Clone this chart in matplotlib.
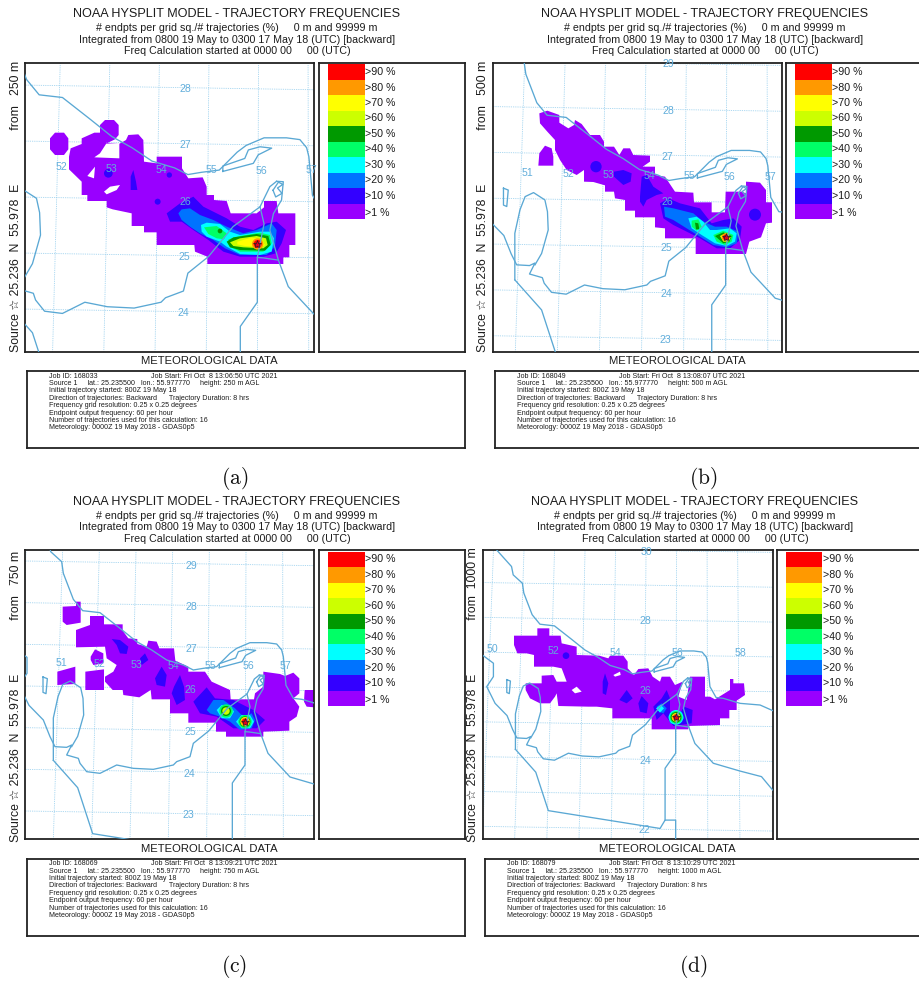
import matplotlib
matplotlib.use("Agg")
import matplotlib.pyplot as plt
from matplotlib.patches import Circle, Polygon, Rectangle

W, H = 919, 981
FONT = ['Liberation Sans', 'DejaVu Sans']
plt.rcParams['font.family'] = FONT
plt.rcParams['mathtext.fontset'] = 'cm'
TXT = '#1c1c1c'
BLUE = '#5aa8d4'

levels = [1, 10, 20, 30, 40, 50, 60, 70, 80, 90]
level_colors = ['#9900ff', '#3300ff', '#0073ff', '#00ffff', '#00ff66',
                '#009900', '#ccff00', '#ffff00', '#ff9900', '#ff0000']
legend_labels = ['>90 %', '>80 %', '>70 %', '>60 %', '>50 %', '>40 %', '>30 %', '>20 %', '>10 %', '>1 %']

titles = ['# endpts per grid sq./# trajectories (%)     0 m and 99999 m',
          'Integrated from 0800 19 May to 0300 17 May 18 (UTC) [backward]',
          'Freq Calculation started at 0000 00     00 (UTC)']

# shared map, in map units
north_coast = [(93, 96), (146, 155), (152, 185), (185, 215), (190, 250), (220, 328), (248, 362), (300, 368),
               (360, 415), (410, 455), (455, 480), (500, 510), (550, 525), (580, 540), (610, 535), (650, 530),
               (690, 490), (710, 475), (750, 458), (800, 458), (830, 462), (845, 480), (850, 500), (858, 586),
               (880, 625), (906, 628), (966, 646), (1038, 652), (1083, 672)]
qeshm = [(658, 533), (726, 515), (737, 496), (767, 481), (741, 478), (715, 485), (707, 504), (658, 521), (658, 533)]
gulf_coast = [(42, 473), (81, 502), (81, 550), (57, 586), (87, 646), (130, 690), (150, 740), (165, 770),
              (200, 772), (215, 765), (200, 795), (235, 805), (240, 820), (260, 845), (300, 850), (350, 825),
              (400, 835), (460, 838), (520, 825), (530, 815), (570, 800), (580, 760), (626, 723), (681, 656),
              (741, 612), (763, 567), (778, 555)]
oman_coast = [(778, 555), (793, 556), (789, 597), (771, 627), (763, 664), (782, 731), (804, 790), (860, 850),
              (870, 861), (966, 889), (1043, 909), (1083, 957)]
musandam = [(770, 575), (782, 557), (792, 562), (780, 570), (790, 582), (776, 590), (770, 575)]
qatar = [(160, 811), (160, 684), (174, 620), (188, 584), (211, 573), (242, 593), (249, 625), (251, 675),
         (233, 739), (215, 770)]
bahrain = [(129, 561), (142, 566), (138, 611), (129, 607), (129, 561)]
saudi_border = [(160, 811), (233, 893), (278, 1031), (679, 1095), (697, 1065), (735, 1065), (735, 1134)]
oman_border = [(697, 1065), (697, 879), (735, 825), (735, 725), (748, 726), (782, 731)]
uae_border = [(741, 612), (750, 650), (735, 725)]
map_lines = [north_coast, qeshm, gulf_coast, oman_coast, musandam, qatar, bahrain, saudi_border, oman_border, uae_border]

meridian_top = [78, 188, 298, 408, 518, 628, 738, 848, 958]
meridian_bottom = [45, 160, 275, 390, 505, 620, 735, 850, 965]
parallel_left = [1088, 963, 838, 713, 588, 463, 338, 213, 88]

# panel a
fills_a = {
    1: [[(165, 398), (192, 398), (205, 415), (205, 448), (192, 465), (165, 465), (150, 448), (150, 415)],
        [(315, 360), (342, 360), (356, 375), (356, 405), (345, 418), (320, 430), (300, 400), (300, 375)],
        [(207, 470), (212, 445), (245, 432), (245, 415), (283, 398), (318, 398), (318, 430), (357, 432), (378, 420),
         (385, 405), (415, 403), (430, 420), (432, 485), (470, 490), (470, 470), (546, 470), (546, 505), (565, 535),
         (608, 532), (620, 560), (620, 585), (642, 585), (642, 600), (680, 603), (692, 640), (770, 640), (792, 622),
         (792, 603), (830, 603), (835, 640), (886, 640), (886, 735), (868, 735), (868, 772), (850, 772), (850, 792),
         (622, 792), (622, 770), (585, 755), (583, 735), (470, 735), (470, 697), (432, 697), (432, 678), (395, 678),
         (395, 640), (338, 628), (320, 622), (320, 603), (262, 603), (262, 585), (245, 585), (245, 545), (207, 508)]],
    0: [[(283, 472), (300, 460), (318, 432), (358, 432), (358, 475)], [(262, 528), (285, 500), (282, 535)],
        [(312, 575), (330, 560), (360, 555), (350, 570), (320, 583)]],
    10: [[(400, 510), (408, 545), (412, 570), (392, 570), (392, 530)],
         [(500, 640), (540, 610), (580, 590), (610, 620), (640, 635), (680, 655), (720, 680), (760, 690), (800, 670),
          (830, 665), (858, 690), (845, 730), (828, 760), (790, 770), (720, 770), (670, 755), (625, 720), (580, 690),
          (545, 665), (510, 665)]],
    20: [[(535, 640), (545, 628), (570, 625), (600, 645), (640, 660), (680, 680), (730, 700), (770, 690), (815, 670),
          (830, 690), (825, 740), (800, 765), (720, 765), (675, 745), (640, 720), (600, 700), (570, 680), (545, 660)]],
    30: [[(603, 675), (620, 668), (660, 672), (690, 695), (720, 705), (780, 695), (810, 695), (822, 715), (815, 755),
          (780, 765), (720, 762), (680, 740), (660, 725), (620, 710), (605, 695)]],
    40: [[(612, 682), (650, 678), (680, 700), (672, 718), (650, 715), (625, 702)],
         [(685, 718), (720, 708), (780, 698), (810, 705), (815, 730), (790, 755), (720, 755), (690, 740)]],
    50: [[(680, 725), (700, 712), (770, 702), (805, 708), (812, 735), (795, 752), (720, 750), (690, 742)]],
    60: [[(690, 727), (720, 715), (770, 708), (798, 715), (803, 735), (790, 745), (730, 742), (700, 738)]],
    70: [[(712, 725), (755, 713), (785, 718), (795, 735), (785, 742), (735, 738), (712, 733)]],
}
spots_a = [(325, 520, 13, 10), (508, 525, 8, 10), (473, 605, 9, 10), (660, 693, 7, 50), (773, 732, 17, 80), (773, 732, 12, 90)]
labels_a = [('52', 183, 500), ('53', 335, 507), ('54', 485, 510), ('55', 635, 510), ('56', 785, 512), ('57', 935, 510),
            ('28', 556, 268), ('27', 555, 435), ('26', 555, 605), ('25', 553, 772), ('24', 550, 940)]

# panel b
fills_b = {
    1: [[(238, 340), (262, 332), (298, 345), (298, 368), (325, 385), (342, 375), (345, 360), (365, 372), (390, 405),
         (420, 405), (432, 425), (432, 440), (462, 440), (478, 465), (490, 445), (510, 445), (520, 465), (570, 467),
         (570, 485), (548, 500), (585, 500), (585, 525), (615, 530), (645, 575), (700, 578), (702, 607), (755, 607),
         (755, 637), (795, 637), (797, 575), (845, 575), (858, 580), (858, 545), (900, 548), (918, 570), (918, 607),
         (936, 607), (936, 668), (918, 670), (903, 712), (868, 725), (858, 762), (707, 762), (707, 715), (615, 715),
         (615, 685), (585, 682), (585, 652), (525, 652), (525, 632), (495, 632), (495, 600), (465, 595), (462, 575),
         (435, 575), (435, 556), (400, 546), (372, 545), (372, 510), (350, 525), (320, 510), (300, 480), (285, 450),
         (285, 420), (262, 395), (240, 370)],
        [(235, 497), (238, 460), (255, 437), (275, 445), (280, 470), (280, 497)]],
    10: [[(462, 515), (490, 510), (515, 520), (512, 545), (490, 555), (462, 530)],
         [(540, 590), (545, 530), (560, 525), (580, 560), (610, 580), (590, 585), (560, 600), (550, 620), (540, 605)],
         [(600, 610), (625, 595), (660, 610), (720, 625), (755, 670), (790, 660), (820, 655), (845, 680), (840, 720),
          (810, 745), (770, 745), (720, 715), (680, 695), (640, 675), (610, 655)]],
    20: [[(612, 620), (640, 625), (700, 640), (730, 665), (765, 680), (800, 680), (835, 695), (830, 730), (800, 742),
          (760, 735), (720, 710), (680, 685), (640, 660), (615, 650)]],
    30: [[(685, 655), (710, 650), (730, 665), (750, 690), (770, 690), (810, 685), (830, 700), (825, 725), (800, 738),
          (765, 730), (725, 705), (695, 685)]],
    40: [[(695, 662), (715, 658), (725, 680), (710, 692), (695, 680)],
         [(760, 705), (790, 692), (820, 705), (815, 725), (795, 735), (770, 725)]],
    50: [[(705, 668), (715, 670), (718, 688), (708, 688)], [(765, 708), (790, 697), (815, 708), (808, 725), (790, 730)]],
    70: [[(780, 708), (800, 698), (812, 712), (805, 725), (790, 725)]],
}
spots_b = [(408, 500, 17, 10), (885, 644, 18, 10), (797, 712, 12, 80), (797, 712, 8, 90)]
labels_b = [('51', 203, 520), ('52', 325, 522), ('53', 445, 525), ('54', 568, 527), ('55', 688, 529), ('56', 808, 530),
            ('57', 930, 530), ('29', 625, 193), ('28', 625, 332), ('27', 623, 470), ('26', 622, 606), ('25', 620, 745),
            ('24', 619, 882), ('23', 617, 1020)]

# panel c
fills_c = {
    1: [[(188, 350), (228, 348), (228, 335), (242, 335), (242, 398), (200, 405), (188, 395)],
        [(228, 420), (270, 405), (270, 378), (312, 378), (312, 403), (368, 403), (368, 422), (385, 445), (412, 447),
         (412, 462), (440, 470), (445, 452), (470, 455), (478, 475), (522, 475), (526, 512), (565, 530), (565, 545),
         (615, 545), (635, 575), (690, 600), (692, 628), (762, 628), (765, 610), (790, 590), (790, 545), (840, 552),
         (855, 558), (880, 548), (898, 565), (898, 610), (880, 625), (898, 650), (890, 680), (868, 695), (868, 722),
         (790, 725), (790, 740), (678, 740), (678, 725), (648, 725), (648, 698), (565, 698), (565, 670), (510, 670),
         (510, 628), (455, 628), (452, 600), (418, 622), (370, 615), (368, 600), (338, 600), (315, 575), (315, 560),
         (340, 545), (350, 525), (320, 505), (315, 470), (228, 472)],
        [(172, 545), (226, 530), (226, 582), (172, 585)],
        [(272, 500), (285, 478), (310, 490), (310, 520), (280, 525), (272, 510)],
        [(256, 545), (312, 538), (312, 600), (256, 600)],
        [(914, 600), (943, 600), (943, 652), (920, 650), (912, 635)]],
    10: [[(335, 447), (360, 450), (385, 470), (380, 492), (360, 490), (350, 465)],
         [(420, 505), (435, 490), (445, 510), (425, 525)],
         [(465, 565), (485, 530), (500, 555), (495, 590), (470, 585)],
         [(522, 590), (540, 555), (552, 590), (555, 630), (530, 645), (515, 610)],
         [(580, 635), (620, 592), (645, 625), (700, 630), (760, 660), (795, 690), (770, 715), (700, 715), (650, 680), (600, 670)]],
    20: [[(620, 660), (640, 630), (670, 630), (705, 655), (730, 680), (755, 670), (765, 690), (755, 715), (720, 720),
          (690, 695), (660, 680), (630, 670)]],
    30: [[(650, 660), (665, 645), (690, 645), (702, 665), (690, 685), (665, 685)],
         [(708, 695), (725, 675), (750, 675), (762, 695), (750, 715), (725, 715)]],
}
spots_c = [(678, 663, 20, 40), (735, 695, 20, 40), (678, 663, 15, 50), (735, 695, 16, 50), (678, 663, 11, 60),
           (735, 695, 14, 70), (735, 695, 12, 80), (735, 695, 9, 90)]
labels_c = [('51', 185, 520), ('52', 297, 522), ('53', 410, 526), ('54', 520, 528), ('55', 632, 529), ('56', 745, 529),
            ('57', 856, 528), ('29', 575, 227), ('28', 575, 352), ('27', 573, 476), ('26', 571, 600), ('25', 570, 726),
            ('24', 568, 851), ('23', 566, 976)]

# panel d
fills_d = {
    1: [[(162, 437), (232, 437), (232, 415), (268, 415), (268, 437), (302, 437), (305, 460), (350, 470), (350, 495),
         (418, 497), (445, 505), (450, 497), (490, 497), (503, 515), (503, 535), (522, 555), (535, 537), (565, 535),
         (578, 560), (600, 575), (605, 560), (630, 560), (645, 585), (668, 575), (655, 620), (680, 630), (690, 560),
         (735, 560), (735, 620), (750, 620), (765, 628), (810, 600), (810, 567), (820, 567), (820, 580), (852, 580),
         (855, 615), (830, 632), (830, 660), (808, 660), (808, 685), (780, 685), (780, 705), (685, 708), (685, 718),
         (575, 718), (575, 685), (457, 685), (457, 655), (410, 650), (385, 650), (295, 648), (290, 610), (285, 620),
         (270, 640), (240, 640), (210, 625), (197, 600), (197, 580), (245, 580), (245, 557), (280, 555), (290, 575),
         (320, 575), (305, 535), (280, 530), (222, 530), (222, 495), (200, 490), (172, 490), (162, 465)]],
    0: [[(335, 600), (350, 590), (365, 605), (345, 610)], [(460, 555), (480, 545), (482, 555), (465, 560)]],
    10: [[(428, 575), (435, 550), (445, 580), (438, 615), (428, 610)],
         [(478, 630), (500, 600), (518, 625), (500, 640)],
         [(535, 640), (545, 618), (565, 640), (560, 670), (540, 665)],
         [(580, 650), (605, 625), (620, 600), (630, 625), (630, 665), (660, 670), (672, 650), (698, 660), (695, 700),
          (640, 708), (610, 670), (590, 690)]],
    20: [[(590, 650), (605, 640), (620, 655), (610, 670), (598, 665)],
         [(625, 680), (645, 660), (665, 665), (672, 685), (650, 705), (630, 700)]],
    30: [[(588, 655), (602, 645), (612, 655), (600, 668)]],
}
spots_d = [(318, 497, 10, 10), (648, 682, 22, 30), (648, 682, 19, 40), (648, 682, 16, 50), (648, 682, 13, 70),
           (648, 682, 11, 80), (648, 682, 8, 90)]
labels_d = [('50', 97, 477), ('52', 281, 484), ('54', 467, 488), ('56', 653, 489), ('58', 841, 488), ('30', 559, 185),
            ('28', 557, 394), ('26', 556, 603), ('24', 555, 812), ('22', 553, 1020)]

heights = ['250', '500', '750', '1000']
job_ids = ['168033', '168049', '168069', '168079']
job_times = ['13:06:50', '13:08:07', '13:09:21', '13:10:29']

fig = plt.figure(figsize=(W / 100, H / 100), dpi=100)


def make_ax(x0, y0, x1, y1, lw=1.3):
    ax = fig.add_axes([x0 / W, 1 - y1 / H, (x1 - x0) / W, (y1 - y0) / H])
    ax.set_xticks([])
    ax.set_yticks([])
    for s in ax.spines.values():
        s.set_linewidth(lw)
        s.set_color('#222222')
    return ax


def put(x, y, s, size, **kw):
    fig.text(x / W, 1 - y / H, s, fontsize=size, color=TXT, va='center', **kw)


def draw_panel(ox, oy, ty, frame, src, scale, fills, spots, labels, height, job, stamp, tx, lx, info_x, box_x, box_right, mx, cap, cap_x, cap_y, legx):
    # frame and marks are in crop units, 3 per pixel
    ax = make_ax(ox + frame[0] / 3, oy + frame[1] / 3, ox + frame[2] / 3, oy + frame[3] / 3)
    ax.set_xlim(frame[0], frame[2])
    ax.set_ylim(frame[3], frame[1])

    def tr(x, y):
        return src[0] + (x - 735) * scale, src[1] + (y - 695) * scale

    for t, b in zip(meridian_top, meridian_bottom):
        p = tr(t - (b - t) * 0.5, 180 - 868 * 0.5)
        q = tr(b + (b - t) * 0.5, 1048 + 868 * 0.5)
        ax.plot([p[0], q[0]], [p[1], q[1]], ls=(0, (1, 1.2)), lw=0.6, color='#8fcbec', zorder=1)
    for y in parallel_left:
        p = tr(-200, y - 14 * 275 / 868)
        q = tr(1300, y + 14 * 1225 / 868)
        ax.plot([p[0], q[0]], [p[1], q[1]], ls=(0, (1, 1.2)), lw=0.6, color='#8fcbec', zorder=1)

    for lev in levels:
        for poly in fills.get(lev, []):
            ax.add_patch(Polygon(poly, closed=True, fc=level_colors[levels.index(lev)], ec='none', zorder=2))
        if lev == 1:
            for poly in fills.get(0, []):
                ax.add_patch(Polygon(poly, closed=True, fc='white', ec='none', zorder=2))
    for x, y, r, lev in spots:
        ax.add_patch(Circle((x, y), r, fc=level_colors[levels.index(lev)], ec='none', zorder=2))

    for line in map_lines:
        xs, ys = zip(*[tr(*p) for p in line])
        ax.plot(xs, ys, color=BLUE, lw=0.95, zorder=3)

    ax.plot([src[0]], [src[1]], marker='*', ms=6, mfc='#e00020', mec='#222222', mew=0.5, zorder=5)
    for s, x, y in labels:
        ax.text(x, y, s, fontsize=7.6, color='#62aedb', ha='center', va='center', zorder=4, clip_on=False)

    # legend frame
    leg = make_ax(ox + (frame[2] + 13) / 3, oy + frame[1] / 3, min(ox + 464.5, W + 3), oy + frame[3] / 3)
    leg.set_xlim(ox + (frame[2] + 13) / 3, min(ox + 464.5, W + 3))
    leg.set_ylim(oy + frame[3] / 3, oy + frame[1] / 3)
    top = oy + (frame[1] + 5) / 3
    step = 46.4 / 3
    for i, name in enumerate(legend_labels):
        leg.add_patch(Rectangle((ox + legx / 3, top + i * step), 109 / 3, step, fc=level_colors[9 - i], ec='none'))
        leg.text(ox + legx / 3 + 37, top + (i + 0.5) * step + (1.5 if i == 9 else 0), name, fontsize=7.7,
                 color=TXT, ha='left', va='center')

    # titles
    put(tx, ty + 14, 'NOAA HYSPLIT MODEL - TRAJECTORY FREQUENCIES', 9.05, ha='center')
    for i, s in enumerate(titles):
        put(tx, ty + 28.3 + i * 11.35, s, 7.7, ha='center')

    gap = '  ' if len(height) == 4 else '   '
    side = f'Source \u2606 25.236  N  55.978  E                from{gap}{height} m'
    fig.text(lx / W, 1 - (oy + 352.5) / H, side, fontsize=8.8, color=TXT, rotation=90, ha='center', va='bottom')

    put(mx, ty + 361, 'METEOROLOGICAL DATA', 8.1, ha='center')

    # info box
    make_ax(box_x, ty + 371, min(box_right, W + 3), ty + 448)
    info = [f'Job ID: {job}',
            f'Source 1     lat.: 25.235500   lon.: 55.977770     height: {height} m AGL',
            'Initial trajectory started: 800Z 19 May 18',
            'Direction of trajectories: Backward      Trajectory Duration: 8 hrs',
            'Frequency grid resolution: 0.25 x 0.25 degrees',
            'Endpoint output frequency: 60 per hour',
            'Number of trajectories used for this calculation: 16',
            'Meteorology: 0000Z 19 May 2018 - GDAS0p5']
    for i, s in enumerate(info):
        put(info_x, ty + 376 + i * 7.42, s, 5.15, ha='left')
    put(info_x + 102, ty + 376, f'Job Start: Fri Oct  8 {stamp} UTC 2021', 5.15, ha='left')

    fig.text(cap_x / W, 1 - cap_y / H, f'$\\mathrm{{{cap}}}$', fontsize=15.5, color='#111111', ha='center', va='center')


draw_panel(0, 0, 0, (75, 188, 943, 1055), (772, 732), 1.344, fills_a, spots_a, labels_a, heights[0], job_ids[0], job_times[0],
           237, 15.5, 49, 27, 464.5, 209, '(a)', 235, 478, 985)
draw_panel(460, 0, 0, (98, 188, 966, 1055), (797, 712), 1.10, fills_b, spots_b, labels_b, heights[1], job_ids[1], job_times[1],
           705, 483, 517, 494.5, 923, 677, '(b)', 703, 478, 1006)
draw_panel(0, 490, 487.7, (75, 180, 943, 1048), (735, 695), 1.0, fills_c, spots_c, labels_c, heights[2], job_ids[2], job_times[2],
           237, 15.5, 49, 27, 464.5, 209, '(c)', 234, 967, 985)
draw_panel(460, 490, 487.7, (68, 180, 938, 1048), (647, 681), 0.836, fills_d, spots_d, labels_d, heights[3], job_ids[3], job_times[3],
           695, 473, 507, 485, 923, 667, '(d)', 693, 967, 978)

fig.savefig('out.png', dpi=100)
